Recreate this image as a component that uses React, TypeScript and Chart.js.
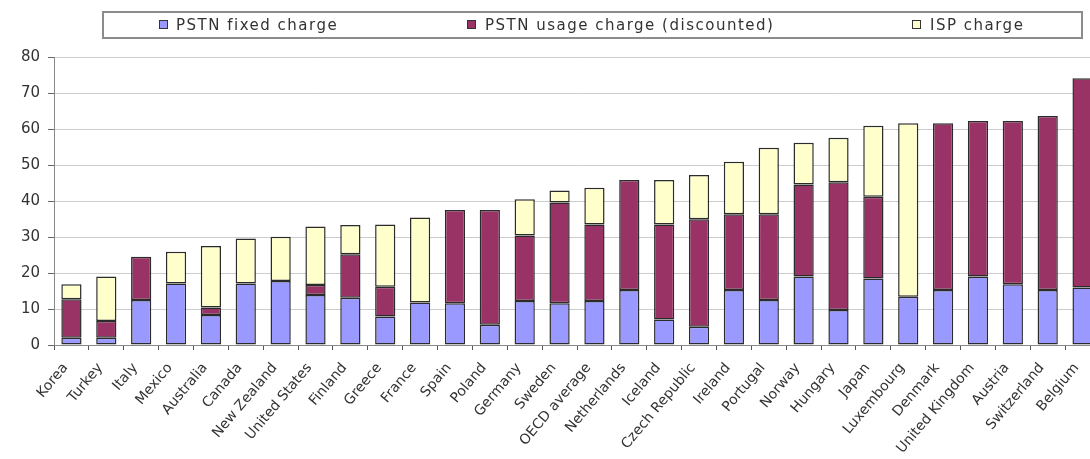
import React, { useEffect, useRef } from "react";
import { Chart, registerables } from "chart.js";

Chart.register(...registerables);

const countries = [
  "Korea", "Turkey", "Italy", "Mexico", "Australia", "Canada", "New Zealand",
  "United States", "Finland", "Greece", "France", "Spain", "Poland", "Germany",
  "Sweden", "OECD average", "Netherlands", "Iceland", "Czech Republic", "Ireland",
  "Portugal", "Norway", "Hungary", "Japan", "Luxembourg", "Denmark",
  "United Kingdom", "Austria", "Switzerland", "Belgium",
];

const pstnFixed = [
  2.0, 2.0, 12.5, 17.1, 8.3, 17.1, 17.8, 13.9, 13.1, 7.9, 11.8, 11.6, 5.6, 12.2,
  11.6, 12.2, 15.3, 7.1, 5.1, 15.3, 12.5, 19.0, 9.7, 18.5, 13.4, 15.3, 19.0, 16.9,
  15.3, 16.0,
];

const pstnUsage = [
  10.7, 4.7, 12.0, 0, 2.1, 0, 0, 2.8, 12.1, 8.3, 0, 25.9, 31.9, 18.2, 28.0, 21.3,
  30.5, 26.4, 29.8, 21.0, 23.8, 25.6, 35.5, 22.7, 0, 46.3, 43.2, 45.3, 48.3, 58.1,
];

const ispCharge = [
  4.2, 12.3, 0, 8.8, 17.1, 12.5, 12.3, 16.2, 8.1, 17.3, 23.6, 0, 0, 10.1, 3.3, 10.2,
  0, 12.3, 12.3, 14.6, 18.5, 11.6, 12.4, 19.7, 48.2, 0, 0, 0, 0, 0,
];

const seriesNames = ["PSTN fixed charge", "PSTN usage charge (discounted)", "ISP charge"];
const seriesColors = ["#9999FF", "#993366", "#FFFFCC"];
const yTicks = [0, 10, 20, 30, 40, 50, 60, 70, 80];

const legendPos = [
  { sq: 57, tx: 74 },
  { sq: 365, tx: 383 },
  { sq: 810, tx: 828 },
];

export default function App() {
  const canvasRef = useRef<HTMLCanvasElement | null>(null);

  useEffect(() => {
    if (!canvasRef.current) return;
    const values = [pstnFixed, pstnUsage, ispCharge];
    const chart = new Chart(canvasRef.current, {
      type: "bar",
      data: {
        labels: countries,
        datasets: seriesNames.map((name, i) => ({
          label: name,
          data: values[i],
          backgroundColor: seriesColors[i],
          borderColor: "#2b2b2b",
          borderWidth: 1.5,
          borderSkipped: false,
          barPercentage: 0.58,
          categoryPercentage: 1,
        })),
      },
      options: {
        animation: false,
        responsive: true,
        maintainAspectRatio: false,
        devicePixelRatio: 1,
        layout: { padding: { top: 57, left: 0, right: 0, bottom: 0 } },
        plugins: {
          legend: { display: false },
          tooltip: { enabled: false },
        },
        scales: {
          x: {
            stacked: true,
            offset: true,
            grid: {
              display: true,
              drawOnChartArea: false,
              drawTicks: true,
              tickLength: 5,
              tickColor: "#555",
              offset: true,
            },
            border: { display: true, color: "#888", width: 1 },
            ticks: {
              minRotation: 50,
              maxRotation: 50,
              autoSkip: false,
              padding: 10,
              labelOffset: -6,
              color: "#333",
              font: { family: "'DejaVu Sans', sans-serif", size: 14 },
            },
            afterFit: (scale: any) => {
              scale.height = 114;
              scale.paddingLeft = 0;
              scale.paddingRight = 0;
            },
          },
          y: {
            stacked: true,
            min: 0,
            max: 80,
            afterBuildTicks: (scale: any) => {
              scale.ticks = yTicks.map((v) => ({ value: v }));
            },
            grid: {
              color: "#cccccc",
              drawTicks: true,
              tickLength: 6,
              tickColor: "#666",
            },
            border: { display: true, color: "#888", width: 1 },
            ticks: {
              padding: 8,
              color: "#333",
              font: { family: "'DejaVu Sans', sans-serif", size: 15 },
            },
            afterFit: (scale: any) => {
              scale.width = 54;
            },
          },
        },
      },
    });
    return () => chart.destroy();
  }, []);

  return (
    <div
      style={{
        position: "fixed",
        left: 0,
        top: 0,
        width: 1090,
        height: 459,
        overflow: "hidden",
        background: "#fff",
      }}
    >
      <div style={{ position: "absolute", left: 0, top: 0, width: 1100, height: 459 }}>
        <canvas ref={canvasRef} />
      </div>
      <div
        style={{
          position: "absolute",
          left: 102,
          top: 11,
          width: 981,
          height: 28,
          boxSizing: "border-box",
          border: "2px solid #8c8c8c",
          fontFamily: "'DejaVu Sans', sans-serif",
          fontSize: 15,
          color: "#333",
        }}
      >
        {seriesNames.map((name, i) => (
          <React.Fragment key={name}>
            <span
              style={{
                position: "absolute",
                left: legendPos[i].sq - 2,
                top: 7,
                width: 9,
                height: 9,
                boxSizing: "border-box",
                border: "1px solid #333",
                background: seriesColors[i],
              }}
            />
            <span
              style={{
                position: "absolute",
                left: legendPos[i].tx - 2,
                top: 3,
                lineHeight: "18px",
                letterSpacing: "1.5px",
                whiteSpace: "nowrap",
              }}
            >
              {name}
            </span>
          </React.Fragment>
        ))}
      </div>
    </div>
  );
}
